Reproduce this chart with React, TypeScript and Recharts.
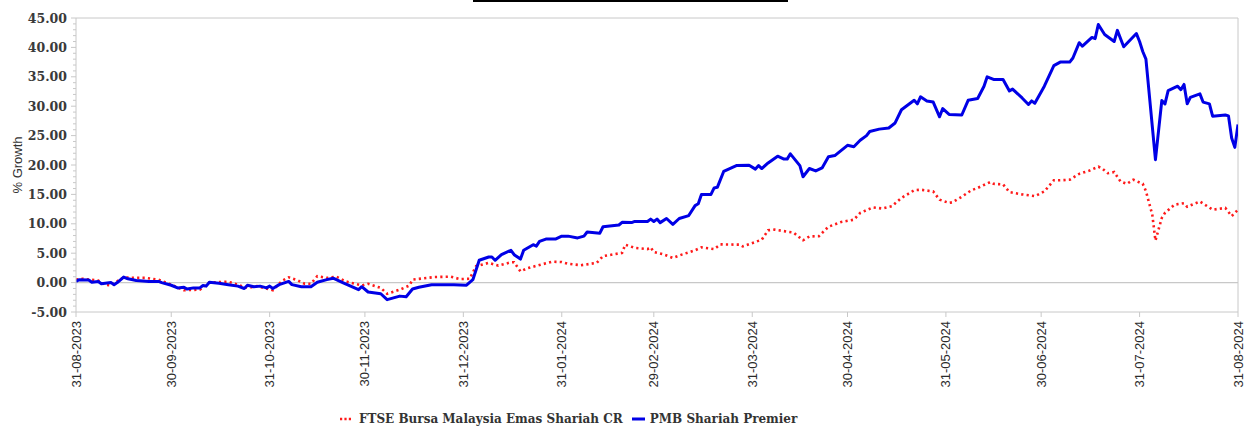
import React from 'react';
import { LineChart, Line, XAxis, YAxis, ReferenceLine, Label } from 'recharts';

// ---- data ----
const START_DATE = '31-08-2023';
const X_TICK_LABELS = [
  '31-08-2023', '30-09-2023', '31-10-2023', '30-11-2023', '31-12-2023', '31-01-2024',
  '29-02-2024', '31-03-2024', '30-04-2024', '31-05-2024', '30-06-2024', '31-07-2024', '31-08-2024',
];
const Y_TICK_LABELS = [-5, 0, 5, 10, 15, 20, 25, 30, 35, 40, 45];

const SERIES_FTSE = 'FTSE Bursa Malaysia Emas Shariah CR';
const SERIES_PMB = 'PMB Shariah Premier';

// days since 31-08-2023
const PMB_DAYS = [
  0, 1, 4, 5, 7, 8, 11, 12, 13, 15, 16, 19, 23, 26, 27, 30, 32, 34, 35, 37, 39, 40, 41, 42, 45, 48,
  51, 53, 54, 56, 58, 60, 61, 62, 64, 67, 68, 71, 74, 76, 79, 81, 84, 89, 90, 92, 96, 98, 102, 104,
  106, 108, 112, 119, 123, 125, 127, 130, 131, 132, 134, 137, 138, 140, 141, 144, 145, 146, 148, 151,
  153, 155, 158, 160, 161, 165, 166, 171, 172, 175, 176, 180, 181, 182, 183, 184, 186, 188, 190, 193,
  195, 196, 197, 200, 201, 202, 204, 208, 212, 214, 215, 216, 218, 221, 223, 224, 225, 228, 229, 231,
  233, 235, 237, 239, 243, 245, 247, 249, 250, 253, 256, 258, 260, 264, 265, 266, 268, 270, 272, 273,
  275, 279, 281, 284, 286, 287, 289, 292, 294, 295, 298, 300, 301, 302, 305, 308, 310, 313, 314, 316,
  317, 320, 321, 322, 324, 327, 328, 330, 334, 335, 336, 337, 340, 342, 343, 344, 347, 348, 349, 350,
  351, 354, 355, 357, 358, 362, 363, 364, 365, 366,
];
const PMB_VALUES = [
  0.2, 0.5, 0.45, 0.05, 0.2, -0.2, 0.0, -0.35, 0.0, 0.95, 0.7, 0.35, 0.2, 0.2, 0.0, -0.45, -0.9, -0.8,
  -1.1, -0.9, -0.9, -0.5, -0.6, 0.05, -0.1, -0.35, -0.6, -1.0, -0.45, -0.7, -0.6, -0.9, -0.6, -1.0,
  -0.35, 0.2, -0.35, -0.7, -0.7, 0.05, 0.5, 0.75, 0.0, -1.2, -0.7, -1.6, -1.9, -2.9, -2.3, -2.4, -1.1,
  -0.8, -0.35, -0.35, -0.45, 0.5, 3.8, 4.35, 4.35, 3.8, 4.75, 5.5, 4.75, 4.0, 5.5, 6.45, 6.2, 7.0, 7.4,
  7.4, 7.9, 7.9, 7.6, 7.9, 8.6, 8.4, 9.5, 9.8, 10.25, 10.2, 10.4, 10.4, 10.8, 10.4, 10.8, 10.2, 10.9,
  9.9, 10.9, 11.4, 13.1, 13.4, 15.0, 15.0, 16.1, 16.2, 18.9, 19.9, 19.95, 19.3, 19.9, 19.4, 20.35, 21.5,
  21.0, 21.0, 21.9, 19.9, 18.0, 19.4, 19.0, 19.5, 21.4, 21.6, 23.35, 23.1, 24.2, 25.0, 25.7, 26.1, 26.3,
  27.15, 29.4, 31.0, 30.4, 31.6, 30.9, 30.7, 28.2, 29.6, 28.6, 28.5, 31.0, 31.3, 33.4, 35.0, 34.55,
  34.55, 32.6, 32.9, 31.4, 30.3, 30.9, 30.5, 33.4, 36.9, 37.5, 37.5, 38.2, 40.8, 40.2, 41.7, 41.5, 43.9,
  42.2, 41.0, 42.9, 40.1, 42.35, 41.0, 39.3, 38.0, 20.9, 30.95, 30.4, 32.65, 33.4, 32.8, 33.7, 30.4,
  31.5, 32.1, 30.7, 30.4, 28.3, 28.5, 28.35, 24.6, 23.0, 26.9,
];

const FTSE_DAYS = [
  0, 2, 7, 9, 11, 15, 19, 22, 26, 30, 34, 39, 42, 48, 54, 57, 62, 65, 67, 70, 72, 74, 76, 79, 82, 85,
  90, 92, 96, 98, 102, 105, 106, 113, 118, 121, 124, 126, 130, 133, 137, 138, 140, 142, 146, 150, 153,
  155, 159, 164, 166, 172, 173, 176, 180, 181, 182, 185, 188, 191, 195, 197, 201, 203, 209, 210, 216,
  218, 220, 226, 229, 231, 234, 237, 241, 245, 247, 251, 254, 257, 260, 264, 266, 270, 272, 275, 276,
  279, 282, 284, 288, 289, 292, 294, 298, 302, 305, 308, 310, 313, 316, 319, 322, 323, 325, 327, 329,
  331, 333, 336, 337, 339, 340, 342, 343, 346, 349, 350, 354, 358, 362, 364, 366,
];
const FTSE_VALUES = [
  0.5, 0.65, 0.35, -0.35, -0.45, 0.9, 0.8, 0.8, 0.5, -0.35, -1.3, -1.2, 0.0, 0.15, -0.9, -0.6, -1.3,
  0.35, 0.9, 0.35, -0.2, -0.2, 1.1, 0.8, 1.0, 0.2, -0.5, -0.2, -0.9, -1.9, -1.2, -0.5, 0.5, 0.95, 1.0,
  0.6, 0.65, 2.8, 3.35, 2.9, 3.45, 3.45, 1.9, 2.4, 3.0, 3.55, 3.5, 3.2, 2.95, 3.35, 4.5, 5.05, 6.45,
  5.9, 5.7, 6.0, 5.2, 4.8, 4.2, 4.8, 5.5, 6.0, 5.7, 6.5, 6.45, 6.15, 7.3, 8.9, 9.0, 8.5, 7.2, 7.85, 7.9,
  9.5, 10.3, 10.7, 11.85, 12.8, 12.6, 13.0, 14.4, 15.7, 15.8, 15.5, 14.1, 13.55, 13.65, 14.6, 15.7,
  16.1, 17.1, 16.8, 16.7, 15.4, 15.0, 14.7, 15.5, 17.4, 17.4, 17.5, 18.5, 19.0, 19.7, 19.5, 18.6, 18.8,
  17.2, 16.8, 17.5, 16.8, 15.55, 11.55, 7.15, 11.0, 11.85, 13.25, 13.5, 12.9, 13.8, 12.4, 12.7, 11.3,
  12.4,
];

// ---- helpers ----
const parseDay = (s: string) => {
  const [dd, mm, yy] = s.split('-').map(Number);
  return Date.UTC(yy, mm - 1, dd);
};
const DAY_MS = 86400000;
const dayOf = (s: string) => Math.round((parseDay(s) - parseDay(START_DATE)) / DAY_MS);
const X_TICKS = X_TICK_LABELS.map(dayOf);
const X_LABEL_BY_DAY: Record<number, string> = {};
X_TICK_LABELS.forEach((l) => { X_LABEL_BY_DAY[dayOf(l)] = l; });

const Y_MIN = Y_TICK_LABELS[0];
const Y_MAX = Y_TICK_LABELS[Y_TICK_LABELS.length - 1];
const Y_ALL_TICKS: number[] = [];
for (let v = Y_MIN; v <= Y_MAX; v += 1) Y_ALL_TICKS.push(v);

const pmbData = PMB_DAYS.map((d, i) => ({ d, v: PMB_VALUES[i] }));
const ftseData = FTSE_DAYS.map((d, i) => ({ d, v: FTSE_VALUES[i] }));

const AXIS_COLOR = '#c8c8c8';
const BLUE = '#0000e6';
const RED = '#ff1a1a';

const TICK_SIZE = 6;
const TICK_MARGIN = 2;

const YTick = (props: any) => {
  const { x, y, payload } = props;
  const v = payload.value as number;
  const axisX = x + TICK_SIZE + TICK_MARGIN;
  const major = Y_TICK_LABELS.includes(v);
  return (
    <g>
      <line x1={axisX} x2={axisX - (major ? 5 : 3)} y1={y} y2={y} stroke={AXIS_COLOR} strokeWidth={1} />
      {major && (
        <text
          x={x - 1}
          y={y}
          dy={4.5}
          textAnchor="end"
          fontFamily="'DejaVu Serif', serif"
          fontWeight="bold"
          fontSize={12.5}
          fill="#3a3a3a"
        >
          {v.toFixed(2)}
        </text>
      )}
    </g>
  );
};

const XTick = (props: any) => {
  const { x, y, payload } = props;
  const label = X_LABEL_BY_DAY[payload.value] ?? '';
  return (
    <text
      transform={`translate(${x + 4.5},${y + 2}) rotate(-90)`}
      textAnchor="end"
      fontFamily="'Liberation Sans', Arial, sans-serif"
      fontSize={13}
      fill="#2a2a2a"
    >
      {label}
    </text>
  );
};

const YAxisTitle = (props: any) => {
  const vb = props.viewBox || {};
  const cx = (vb.x ?? 0) + 22;
  const cy = (vb.y ?? 0) + (vb.height ?? 0) / 2;
  return (
    <text
      transform={`translate(${cx},${cy}) rotate(-90)`}
      textAnchor="middle"
      fontFamily="'Liberation Sans', Arial, sans-serif"
      fontSize={13}
      fill="#333"
    >
      % Growth
    </text>
  );
};

export default function App() {
  return (
    <div style={{ position: 'absolute', left: 0, top: 0, width: 1251, height: 428, background: '#fff' }}>
      <div style={{ position: 'absolute', left: 473, top: 0, width: 315, height: 2, background: '#000' }} />
      <LineChart width={1251} height={428} margin={{ top: 18, right: 13, bottom: 0, left: 0 }}>
        <XAxis
          dataKey="d"
          type="number"
          domain={[X_TICKS[0], X_TICKS[X_TICKS.length - 1]]}
          ticks={X_TICKS}
          interval={0}
          height={116}
          stroke={AXIS_COLOR}
          tickLine={{ stroke: AXIS_COLOR }}
          tickSize={5}
          tick={<XTick />}
          allowDataOverflow
        />
        <YAxis
          type="number"
          domain={[Y_MIN, Y_MAX]}
          ticks={Y_ALL_TICKS}
          interval={0}
          width={76}
          stroke={AXIS_COLOR}
          tickLine={false}
          tickSize={TICK_SIZE}
          tickMargin={TICK_MARGIN}
          tick={<YTick />}
        >
          <Label content={<YAxisTitle />} position="insideLeft" />
        </YAxis>
        <ReferenceLine y={Y_MAX} stroke={AXIS_COLOR} strokeWidth={1} />
        <ReferenceLine y={0} stroke={AXIS_COLOR} strokeWidth={1.2} />
        <ReferenceLine x={X_TICKS[X_TICKS.length - 1]} stroke={AXIS_COLOR} strokeWidth={1} />
        <Line
          data={ftseData}
          dataKey="v"
          name={SERIES_FTSE}
          type="linear"
          stroke={RED}
          strokeWidth={2.6}
          strokeDasharray="2.2 3.2"
          dot={false}
          activeDot={false}
          isAnimationActive={false}
        />
        <Line
          data={pmbData}
          dataKey="v"
          name={SERIES_PMB}
          type="linear"
          stroke={BLUE}
          strokeWidth={3}
          strokeLinejoin="round"
          dot={false}
          activeDot={false}
          isAnimationActive={false}
        />
      </LineChart>
      <div
        style={{
          position: 'absolute',
          left: 338,
          top: 412,
          display: 'flex',
          alignItems: 'center',
          fontFamily: "'DejaVu Serif', serif",
          fontWeight: 'bold',
          fontSize: 12,
          color: '#333',
          whiteSpace: 'nowrap',
        }}
      >
        <svg width={16} height={10}>
          <line x1={2} x2={15} y1={5} y2={5} stroke={RED} strokeWidth={2.6} strokeDasharray="2.2 2.2" />
        </svg>
        <span style={{ marginLeft: 5 }}>{SERIES_FTSE}</span>
        <svg width={16} height={10} style={{ marginLeft: 8 }}>
          <line x1={1} x2={14} y1={5} y2={5} stroke={BLUE} strokeWidth={3} />
        </svg>
        <span style={{ marginLeft: 3 }}>{SERIES_PMB}</span>
      </div>
    </div>
  );
}
